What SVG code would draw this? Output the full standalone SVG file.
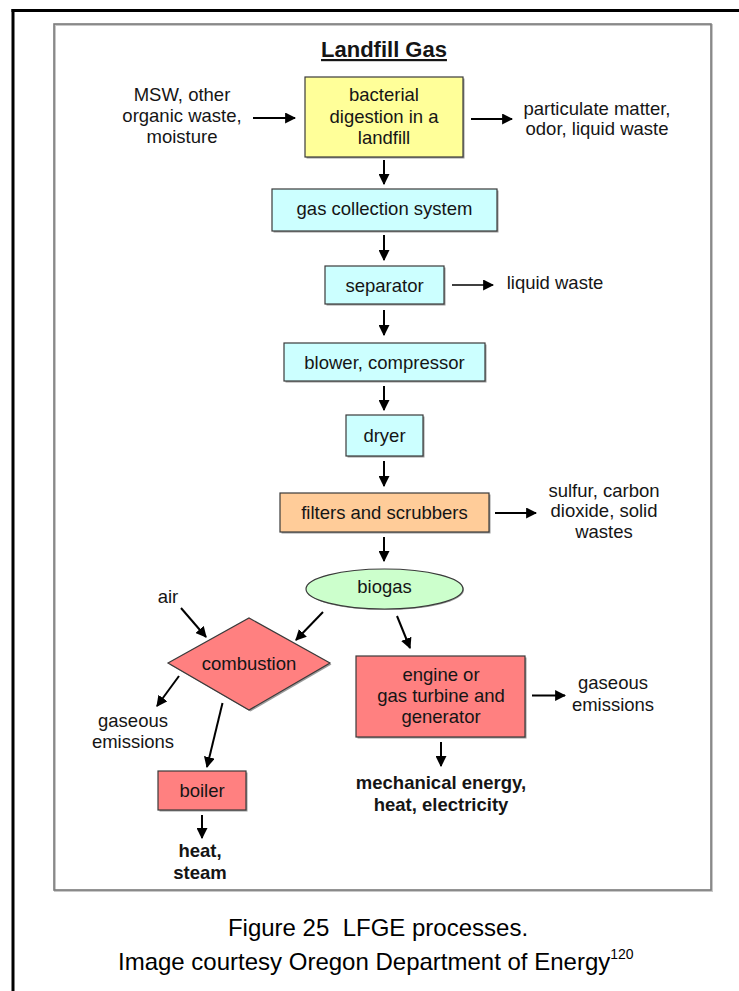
<svg xmlns="http://www.w3.org/2000/svg" width="739" height="991" viewBox="0 0 739 991">
<defs>
<style>
.t{font-family:"Liberation Sans",Arial,sans-serif;font-size:18.5px;fill:#151515;text-anchor:middle}
.b{font-weight:bold}
.box{stroke:#3a3a3a;stroke-width:1.2}
.sh{fill:#9a9a9a}
.c{stroke:#000;stroke-width:2;fill:none;marker-end:url(#ah)}
.cap{font-family:"Liberation Sans",Arial,sans-serif;font-size:24px;fill:#000}
</style>
<marker id="ah" viewBox="0 0 10 10" refX="9" refY="5" markerWidth="11" markerHeight="11" markerUnits="userSpaceOnUse" orient="auto">
<path d="M0,0 L10,5 L0,10 z" fill="#000"/>
</marker>
</defs>
<rect width="739" height="991" fill="#fff"/>
<g id="page-border">
<line x1="11.5" y1="10.5" x2="739" y2="10.5" stroke="#000" stroke-width="3"/>
<line x1="13" y1="9" x2="13" y2="991" stroke="#000" stroke-width="3"/>
</g>
<g id="frame">
<rect x="55" y="25" width="657" height="866" fill="none" stroke="#c8c8c8" stroke-width="2"/>
<rect x="54" y="24" width="657" height="866" fill="none" stroke="#7a7a7a" stroke-width="1.6"/>
</g>
<g id="title">
<text x="384" y="57" class="t b" style="font-size:22px;text-decoration:underline">Landfill Gas</text>
</g>
<g id="input">
<text class="t" x="182"><tspan x="182" y="101">MSW, other</tspan><tspan x="182" y="122">organic waste,</tspan><tspan x="182" y="143">moisture</tspan></text>
</g>
<g id="digestion">
<rect class="sh" x="306.5" y="78.5" width="158" height="80"/>
<rect class="box" x="305" y="77" width="158" height="80" fill="#FFFF99"/>
<text class="t"><tspan x="384" y="101">bacterial</tspan><tspan x="384" y="122.5">digestion in a</tspan><tspan x="384" y="144">landfill</tspan></text>
</g>
<g id="particulate">
<text class="t"><tspan x="597" y="114.5">particulate matter,</tspan><tspan x="597" y="135">odor, liquid waste</tspan></text>
</g>
<g id="gas-collection">
<rect class="sh" x="273.5" y="190.5" width="225" height="42"/>
<rect class="box" x="272" y="189" width="225" height="42" fill="#CCFFFF"/>
<text class="t" x="384.5" y="215">gas collection system</text>
</g>
<g id="separator">
<rect class="sh" x="326.5" y="267.5" width="119" height="38"/>
<rect class="box" x="325" y="266" width="119" height="38" fill="#CCFFFF"/>
<text class="t" x="384.5" y="291.5">separator</text>
</g>
<g id="liquid-waste">
<text class="t" x="555" y="288.5">liquid waste</text>
</g>
<g id="blower">
<rect class="sh" x="285.5" y="344.5" width="201" height="38"/>
<rect class="box" x="284" y="343" width="201" height="38" fill="#CCFFFF"/>
<text class="t" x="384.5" y="368.5">blower, compressor</text>
</g>
<g id="dryer">
<rect class="sh" x="347.5" y="416.5" width="77" height="41"/>
<rect class="box" x="346" y="415" width="77" height="41" fill="#CCFFFF"/>
<text class="t" x="384.5" y="441.5">dryer</text>
</g>
<g id="filters">
<rect class="sh" x="281.5" y="494.5" width="209" height="39"/>
<rect class="box" x="280" y="493" width="209" height="39" fill="#FFCC99"/>
<text class="t" x="384.5" y="518.5">filters and scrubbers</text>
</g>
<g id="solids">
<text class="t"><tspan x="604" y="496.5">sulfur, carbon</tspan><tspan x="604" y="517">dioxide, solid</tspan><tspan x="604" y="537.5">wastes</tspan></text>
</g>
<g id="biogas">
<ellipse cx="385.5" cy="590" rx="78.5" ry="20" fill="#9a9a9a"/>
<ellipse cx="384.5" cy="589" rx="78.5" ry="20" fill="#CCFFCC" stroke="#3a3a3a" stroke-width="1.2"/>
<text class="t" x="384.5" y="592.5">biogas</text>
</g>
<g id="air">
<text class="t" x="168" y="602.5">air</text>
</g>
<g id="combustion">
<polygon points="169.5,664.5 250.5,619.5 331.5,664.5 250.5,711.5" fill="#9a9a9a"/>
<polygon class="box" points="168,663 249,618 330,663 249,710" fill="#FF8080"/>
<text class="t" x="249" y="669.5">combustion</text>
</g>
<g id="engine">
<rect class="sh" x="357.5" y="657.5" width="169" height="81"/>
<rect class="box" x="356" y="656" width="169" height="81" fill="#FF8080"/>
<text class="t"><tspan x="441" y="680.5">engine or</tspan><tspan x="441" y="701.5">gas turbine and</tspan><tspan x="441" y="722.5">generator</tspan></text>
</g>
<g id="gaseous-right">
<text class="t"><tspan x="613" y="689">gaseous</tspan><tspan x="613" y="711">emissions</tspan></text>
</g>
<g id="gaseous-left">
<text class="t"><tspan x="133" y="727">gaseous</tspan><tspan x="133" y="748">emissions</tspan></text>
</g>
<g id="boiler">
<rect class="sh" x="159.5" y="772.5" width="88" height="39"/>
<rect class="box" x="158" y="771" width="88" height="39" fill="#FF8080"/>
<text class="t" x="202" y="796.5">boiler</text>
</g>
<g id="heat-steam">
<text class="t b"><tspan x="200" y="857">heat,</tspan><tspan x="200" y="879">steam</tspan></text>
</g>
<g id="mechanical">
<text class="t b"><tspan x="441" y="789">mechanical energy,</tspan><tspan x="441" y="810.5">heat, electricity</tspan></text>
</g>
<g id="connectors">
<line class="c" x1="253" y1="118" x2="295" y2="118"/>
<line class="c" x1="471" y1="119" x2="512" y2="119"/>
<line class="c" x1="384" y1="160" x2="384" y2="184"/>
<line class="c" x1="384" y1="235" x2="384" y2="260"/>
<line class="c" x1="452" y1="285" x2="493" y2="285" style="stroke-width:1.5"/>
<line class="c" x1="384" y1="310" x2="384" y2="335"/>
<line class="c" x1="384" y1="386" x2="384" y2="410"/>
<line class="c" x1="384" y1="461" x2="384" y2="486"/>
<line class="c" x1="495" y1="513" x2="536" y2="513"/>
<line class="c" x1="384" y1="537" x2="384" y2="561"/>
<line class="c" x1="181" y1="608" x2="206" y2="637"/>
<line class="c" x1="323" y1="612" x2="296" y2="640"/>
<line class="c" x1="397" y1="616" x2="410" y2="648"/>
<line class="c" x1="179" y1="676" x2="157" y2="706"/>
<line class="c" x1="222.5" y1="703" x2="207" y2="767"/>
<line class="c" x1="532" y1="695.5" x2="565" y2="695.5"/>
<line class="c" x1="441" y1="742" x2="441" y2="766"/>
<line class="c" x1="202" y1="815" x2="202" y2="838"/>
</g>
<g id="caption">
<text class="cap" x="378" y="936" text-anchor="middle" xml:space="preserve">Figure 25  LFGE processes.</text>
<text class="cap" x="118" y="970">Image courtesy Oregon Department of Energy<tspan dy="-11" style="font-size:14px">120</tspan></text>
</g>
</svg>
